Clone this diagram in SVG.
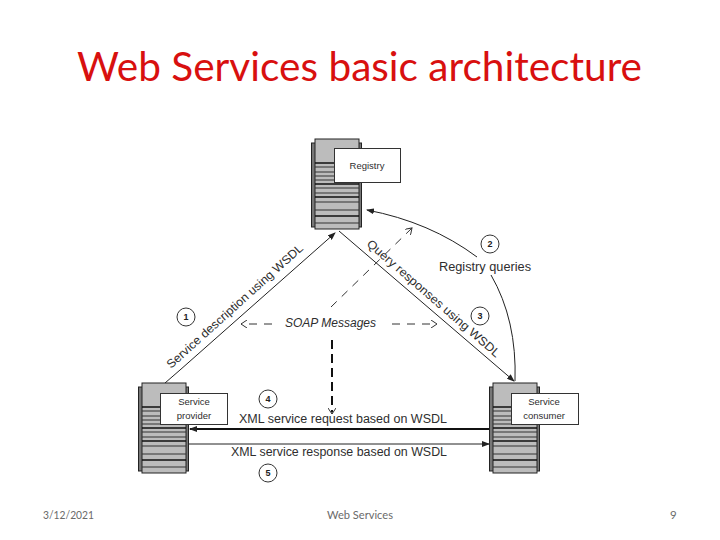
<svg xmlns="http://www.w3.org/2000/svg" width="720" height="540" viewBox="0 0 720 540">
<style>
.t{font-family:"Liberation Sans",Arial,sans-serif;font-size:12px;fill:#2e2e2e}
.c{font-family:"Liberation Sans",Arial,sans-serif;font-size:9.5px;fill:#2e2e2e;text-anchor:middle}
.n{font-family:"Liberation Sans",Arial,sans-serif;font-size:9px;font-weight:bold;fill:#222;text-anchor:middle}
.f{font-family:Lato,"Liberation Sans",sans-serif;font-size:11.5px;fill:#6a6a6a}
.l{stroke:#222;fill:none;stroke-width:1}
.d{stroke:#333;fill:none;stroke-width:1;stroke-dasharray:8 7}
.b{fill:#fff;stroke:#333;stroke-width:1}
.r{fill:none;stroke:#333;stroke-width:1}
.s{stroke:#333;stroke-width:1;fill:none}
</style>
<defs>
<marker id="a" markerWidth="8" markerHeight="6" refX="7" refY="3" orient="auto" markerUnits="userSpaceOnUse"><path d="M0 0L8 3L0 6Z" fill="#222"/></marker>
<marker id="o" markerWidth="8" markerHeight="8" refX="7" refY="4" orient="auto" markerUnits="userSpaceOnUse"><path d="M1 0L7 4L1 8" fill="none" stroke="#333"/></marker>
<g id="srv">
<rect x="-3.500" y="4" width="50" height="84" fill="#777" stroke="#222"/>
<rect x="0" y="0" width="44" height="90" fill="#bcbcbc" stroke="#222"/>
<path class="s" d="M0 28H44M0 33H44M0 37H44M0 41H44M0 49H44M0 54H44M0 63H44M0 71H44M0 84H44"/>
<path d="M0 24H44M0 45H44M0 58H44M0 77H44" stroke="#111" stroke-width="1.600" fill="none"/>
</g>
</defs>
<rect width="720" height="540" fill="#fff"/>
<text x="77" y="81" font-family="Lato,'Liberation Sans',sans-serif" font-size="41" fill="#d8100f" textLength="565" lengthAdjust="spacingAndGlyphs">Web Services basic architecture</text>
<g id="connectors">
<path class="l" marker-end="url(#a)" d="M165 383L180 370L335 233"/>
<path class="l" marker-end="url(#a)" d="M339 231L514 381"/>
<path class="l" marker-end="url(#a)" d="M477 257Q430 222 367 210"/>
<path class="l" d="M491 275Q517 320 515 381"/>
<path class="d" marker-end="url(#o)" d="M331 307L412 228"/>
<path class="d" marker-end="url(#o)" d="M272 324H241"/>
<path class="d" marker-end="url(#o)" d="M392 324H437"/>
<path d="M332 340V412" stroke="#111" stroke-width="2" stroke-dasharray="9 5" fill="none"/>
<path d="M332 410V414" class="l" marker-end="url(#o)"/>
<path d="M489 429H190" stroke="#111" stroke-width="2" fill="none" marker-end="url(#a)"/>
<path class="l" marker-end="url(#a)" d="M189 444H489"/>
</g>
<g id="registry">
<use href="#srv" x="315" y="139"/>
<rect class="b" x="334.500" y="148.500" width="66" height="34"/>
<text class="c" x="367" y="169">Registry</text>
</g>
<g id="provider">
<use href="#srv" x="142" y="383"/>
<rect class="b" x="160.500" y="393.500" width="67" height="31"/>
<text class="c" x="194" y="405">Service</text>
<text class="c" x="194" y="419">provider</text>
</g>
<g id="consumer">
<use href="#srv" x="493" y="383"/>
<rect class="b" x="511.500" y="393.500" width="67" height="31"/>
<text class="c" x="544" y="405">Service</text>
<text class="c" x="544" y="419">consumer</text>
</g>
<g id="labels">
<text class="t" transform="translate(171 369) rotate(-42)" textLength="179" lengthAdjust="spacingAndGlyphs">Service description using WSDL</text>
<text class="t" transform="translate(366 245) rotate(41)" textLength="172" lengthAdjust="spacingAndGlyphs">Query responses using WSDL</text>
<text class="t" x="439" y="271" textLength="92" lengthAdjust="spacingAndGlyphs">Registry queries</text>
<text class="t" x="285" y="327" font-style="italic" textLength="91" lengthAdjust="spacingAndGlyphs">SOAP Messages</text>
<text class="t" x="239" y="423" textLength="208" lengthAdjust="spacingAndGlyphs">XML service request based on WSDL</text>
<text class="t" x="231" y="456" textLength="216" lengthAdjust="spacingAndGlyphs">XML service response based on WSDL</text>
</g>
<g id="step1"><circle class="r" cx="186" cy="317" r="9"/><text class="n" x="186" y="320">1</text></g>
<g id="step2"><circle class="r" cx="490" cy="244" r="9"/><text class="n" x="490" y="247">2</text></g>
<g id="step3"><circle class="r" cx="480" cy="316" r="9"/><text class="n" x="480" y="319">3</text></g>
<g id="step4"><circle class="r" cx="268" cy="399" r="9"/><text class="n" x="268" y="402">4</text></g>
<g id="step5"><circle class="r" cx="268" cy="473" r="9"/><text class="n" x="268" y="476">5</text></g>
<g id="footer">
<text class="f" x="43" y="519" textLength="51" lengthAdjust="spacingAndGlyphs">3/12/2021</text>
<text class="f" x="327" y="519" textLength="66" lengthAdjust="spacingAndGlyphs">Web Services</text>
<text class="f" x="670" y="519">9</text>
</g>
</svg>
